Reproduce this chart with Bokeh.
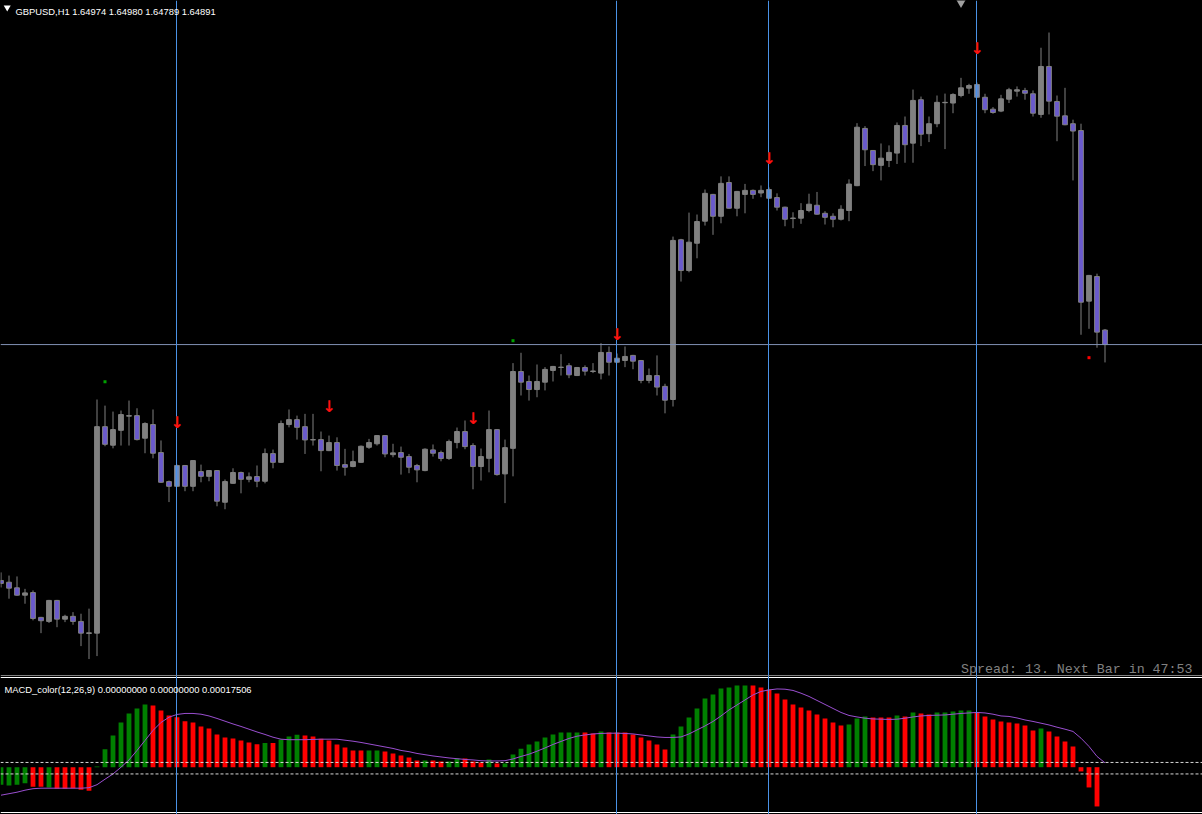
from bokeh.plotting import figure
from bokeh.layouts import column
from bokeh.models import Range1d, Span, Label, ColumnDataSource
from bokeh.embed import file_html
from bokeh.resources import INLINE
from bokeh.core.properties import value

# ---------------- data ----------------
symbol = "GBPUSD,H1"
header_ohlc = ["1.64974", "1.64980", "1.64789", "1.64891"]
macd_label = "MACD_color(12,26,9) 0.00000000 0.00000000 0.00017506"
spread_text = "Spread: 13. Next Bar in 47:53"

opens = [1.63543, 1.63533, 1.63501, 1.63459, 1.63474, 1.63332, 1.63309, 1.63429, 1.63322, 1.63338,
         1.63309, 1.63240, 1.63242, 1.64422, 1.64316, 1.64401, 1.64482, 1.64485, 1.64356, 1.64434,
         1.64274, 1.64108, 1.64081, 1.64200, 1.64081, 1.64165, 1.64138, 1.64171, 1.63990, 1.64098,
         1.64160, 1.64121, 1.64137, 1.64110, 1.64268, 1.64218, 1.64434, 1.64462, 1.64422, 1.64346,
         1.64348, 1.64285, 1.64331, 1.64205, 1.64194, 1.64218, 1.64304, 1.64324, 1.64371, 1.64262,
         1.64274, 1.64251, 1.64200, 1.64171, 1.64289, 1.64274, 1.64240, 1.64331, 1.64394, 1.64314,
         1.64194, 1.64241, 1.64405, 1.64152, 1.64298, 1.64737, 1.64680, 1.64634, 1.64676, 1.64743,
         1.64760, 1.64770, 1.64714, 1.64760, 1.64737, 1.64728, 1.64846, 1.64790, 1.64800, 1.64829,
         1.64800, 1.64686, 1.64714, 1.64652, 1.64577, 1.65490, 1.65314, 1.65470, 1.65596, 1.65749,
         1.65624, 1.65817, 1.65670, 1.65749, 1.65772, 1.65757, 1.65777, 1.65731, 1.65676, 1.65611,
         1.65613, 1.65657, 1.65687, 1.65641, 1.65624, 1.65607, 1.65657, 1.65799, 1.66126, 1.66000,
         1.65915, 1.65943, 1.65985, 1.66143, 1.66042, 1.66290, 1.66096, 1.66153, 1.66273, 1.66271,
         1.66314, 1.66356, 1.66377, 1.66304, 1.66236, 1.66225, 1.66293, 1.66339, 1.66343, 1.66324,
         1.66206, 1.66480, 1.66280, 1.66198, 1.66153, 1.66114, 1.65139, 1.65280, 1.64974]
highs = [1.63589, 1.63571, 1.63566, 1.63495, 1.63486, 1.63335, 1.63432, 1.63432, 1.63347, 1.63362,
         1.63353, 1.63382, 1.64577, 1.64542, 1.64508, 1.64514, 1.64571, 1.64527, 1.64447, 1.64520,
         1.64343, 1.64114, 1.64205, 1.64203, 1.64231, 1.64205, 1.64174, 1.64174, 1.64120, 1.64184,
         1.64165, 1.64160, 1.64200, 1.64297, 1.64291, 1.64457, 1.64520, 1.64485, 1.64495, 1.64495,
         1.64394, 1.64371, 1.64361, 1.64295, 1.64285, 1.64314, 1.64352, 1.64374, 1.64374, 1.64324,
         1.64308, 1.64266, 1.64209, 1.64298, 1.64320, 1.64285, 1.64348, 1.64417, 1.64457, 1.64327,
         1.64297, 1.64514, 1.64408, 1.64348, 1.64785, 1.64844, 1.64714, 1.64777, 1.64762, 1.64769,
         1.64836, 1.64785, 1.64763, 1.64772, 1.64785, 1.64899, 1.64880, 1.64840, 1.64880, 1.64832,
         1.64803, 1.64754, 1.64829, 1.64667, 1.65508, 1.65495, 1.65645, 1.65634, 1.65777, 1.65752,
         1.65852, 1.65852, 1.65769, 1.65809, 1.65777, 1.65800, 1.65789, 1.65755, 1.65679, 1.65647,
         1.65699, 1.65753, 1.65763, 1.65653, 1.65641, 1.65687, 1.65835, 1.66156, 1.66139, 1.66003,
         1.66040, 1.66029, 1.66160, 1.66194, 1.66348, 1.66308, 1.66194, 1.66314, 1.66325, 1.66327,
         1.66415, 1.66381, 1.66388, 1.66324, 1.66248, 1.66318, 1.66358, 1.66366, 1.66358, 1.66343,
         1.66587, 1.66674, 1.66314, 1.66358, 1.66176, 1.66153, 1.65289, 1.65296, 1.64980]
lows = [1.63503, 1.63439, 1.63455, 1.63410, 1.63315, 1.63242, 1.63300, 1.63276, 1.63305, 1.63290,
        1.63168, 1.63094, 1.63111, 1.64310, 1.64298, 1.64314, 1.64314, 1.64343, 1.64270, 1.64241,
        1.64100, 1.63991, 1.64078, 1.64053, 1.64053, 1.64104, 1.64110, 1.63967, 1.63950, 1.64095,
        1.64041, 1.64104, 1.64076, 1.64098, 1.64184, 1.64215, 1.64418, 1.64348, 1.64266, 1.64314,
        1.64167, 1.64282, 1.64171, 1.64142, 1.64190, 1.64215, 1.64295, 1.64314, 1.64247, 1.64247,
        1.64148, 1.64156, 1.64104, 1.64167, 1.64251, 1.64224, 1.64232, 1.64298, 1.64293, 1.64064,
        1.64114, 1.64161, 1.64142, 1.63985, 1.64138, 1.64600, 1.64571, 1.64590, 1.64629, 1.64680,
        1.64714, 1.64699, 1.64711, 1.64714, 1.64728, 1.64692, 1.64714, 1.64785, 1.64762, 1.64750,
        1.64670, 1.64670, 1.64600, 1.64498, 1.64537, 1.65251, 1.65304, 1.65384, 1.65571, 1.65518,
        1.65584, 1.65667, 1.65624, 1.65641, 1.65724, 1.65733, 1.65724, 1.65657, 1.65567, 1.65556,
        1.65581, 1.65647, 1.65633, 1.65577, 1.65561, 1.65600, 1.65596, 1.65796, 1.65911, 1.65882,
        1.65829, 1.65905, 1.65923, 1.65930, 1.65930, 1.66025, 1.66048, 1.66133, 1.66008, 1.66213,
        1.66304, 1.66324, 1.66300, 1.66213, 1.66210, 1.66219, 1.66271, 1.66308, 1.66290, 1.66194,
        1.66187, 1.66206, 1.66053, 1.66144, 1.65829, 1.64947, 1.64981, 1.64873, 1.64789]
closes = [1.63526, 1.63499, 1.63459, 1.63472, 1.63326, 1.63313, 1.63429, 1.63322, 1.63338, 1.63309,
          1.63242, 1.63244, 1.64422, 1.64321, 1.64405, 1.64491, 1.64485, 1.64348, 1.64440, 1.64270,
          1.64104, 1.64081, 1.64200, 1.64081, 1.64228, 1.64138, 1.64171, 1.63996, 1.64108, 1.64160,
          1.64121, 1.64135, 1.64110, 1.64268, 1.64218, 1.64440, 1.64462, 1.64418, 1.64346, 1.64348,
          1.64285, 1.64331, 1.64200, 1.64190, 1.64222, 1.64310, 1.64331, 1.64371, 1.64266, 1.64272,
          1.64247, 1.64190, 1.64175, 1.64293, 1.64270, 1.64240, 1.64337, 1.64394, 1.64308, 1.64194,
          1.64251, 1.64405, 1.64148, 1.64302, 1.64737, 1.64676, 1.64634, 1.64680, 1.64749, 1.64766,
          1.64762, 1.64718, 1.64760, 1.64739, 1.64740, 1.64846, 1.64790, 1.64813, 1.64823, 1.64796,
          1.64686, 1.64714, 1.64648, 1.64573, 1.65486, 1.65314, 1.65476, 1.65594, 1.65755, 1.65624,
          1.65812, 1.65670, 1.65766, 1.65772, 1.65749, 1.65772, 1.65727, 1.65676, 1.65607, 1.65614,
          1.65657, 1.65693, 1.65636, 1.65618, 1.65607, 1.65664, 1.65808, 1.66133, 1.66004, 1.65919,
          1.65956, 1.65989, 1.66143, 1.66033, 1.66286, 1.66093, 1.66153, 1.66275, 1.66275, 1.66320,
          1.66358, 1.66371, 1.66304, 1.66233, 1.66217, 1.66295, 1.66347, 1.66347, 1.66327, 1.66213,
          1.66480, 1.66282, 1.66196, 1.66147, 1.66111, 1.65133, 1.65286, 1.64962, 1.64891]

macd_hist = [-0.00070, -0.00073, -0.00070, -0.00064, -0.00078, -0.00078, -0.00081, -0.00086, -0.00086, -0.00084,
             -0.00090, -0.00094, 0.00003, 0.00072, 0.00127, 0.00179, 0.00215, 0.00235, 0.00251, 0.00247,
             0.00227, 0.00207, 0.00200, 0.00184, 0.00179, 0.00163, 0.00155, 0.00131, 0.00119, 0.00115,
             0.00107, 0.00099, 0.00092, 0.00097, 0.00097, 0.00111, 0.00123, 0.00130, 0.00127, 0.00123,
             0.00114, 0.00107, 0.00091, 0.00079, 0.00067, 0.00067, 0.00067, 0.00067, 0.00063, 0.00055,
             0.00047, 0.00039, 0.00027, 0.00027, 0.00027, 0.00023, 0.00023, 0.00035, 0.00035, 0.00023,
             0.00019, 0.00031, 0.00015, 0.00015, 0.00051, 0.00074, 0.00091, 0.00103, 0.00119, 0.00131,
             0.00139, 0.00139, 0.00139, 0.00139, 0.00135, 0.00143, 0.00139, 0.00139, 0.00139, 0.00131,
             0.00119, 0.00107, 0.00091, 0.00071, 0.00131, 0.00163, 0.00199, 0.00235, 0.00275, 0.00291,
             0.00315, 0.00319, 0.00327, 0.00327, 0.00327, 0.00319, 0.00311, 0.00295, 0.00271, 0.00251,
             0.00239, 0.00227, 0.00211, 0.00195, 0.00179, 0.00167, 0.00171, 0.00195, 0.00203, 0.00199,
             0.00199, 0.00199, 0.00207, 0.00203, 0.00219, 0.00215, 0.00211, 0.00219, 0.00219, 0.00223,
             0.00227, 0.00227, 0.00219, 0.00203, 0.00191, 0.00183, 0.00179, 0.00175, 0.00167, 0.00147,
             0.00155, 0.00143, 0.00123, 0.00103, 0.00083, -0.00017, -0.00081, -0.00157, 0.0]
macd_up = [1, 1, 1, 1, 0, 0, 1, 0, 0, 0,
           0, 0, 1, 1, 1, 1, 1, 1, 1, 0,
           0, 0, 0, 0, 0, 0, 0, 0, 0, 0,
           0, 0, 0, 1, 0, 1, 1, 1, 0, 0,
           0, 0, 0, 0, 0, 0, 1, 1, 0, 0,
           0, 0, 0, 1, 0, 0, 1, 1, 0, 0,
           0, 1, 0, 1, 1, 1, 1, 1, 1, 1,
           1, 1, 1, 0, 0, 1, 0, 0, 0, 0,
           0, 0, 0, 0, 1, 1, 1, 1, 1, 1,
           1, 1, 1, 1, 0, 0, 0, 0, 0, 0,
           0, 0, 0, 0, 0, 0, 1, 1, 1, 0,
           0, 0, 1, 0, 1, 0, 0, 1, 1, 1,
           1, 1, 0, 0, 0, 0, 0, 0, 0, 0,
           1, 0, 0, 0, 0, 0, 0, 0, 0]
macd_signal = [-0.00112, -0.00106, -0.00100, -0.00092, -0.00086, -0.00084, -0.00084, -0.00084, -0.00084, -0.00084,
               -0.00084, -0.00082, -0.00070, -0.00048, -0.00027, 0.00000, 0.00029, 0.00067, 0.00107, 0.00147,
               0.00179, 0.00200, 0.00211, 0.00215, 0.00215, 0.00212, 0.00205, 0.00195, 0.00184, 0.00173,
               0.00163, 0.00152, 0.00141, 0.00131, 0.00120, 0.00112, 0.00110, 0.00110, 0.00110, 0.00111,
               0.00112, 0.00112, 0.00112, 0.00108, 0.00104, 0.00099, 0.00093, 0.00087, 0.00081, 0.00075,
               0.00067, 0.00062, 0.00055, 0.00050, 0.00045, 0.00041, 0.00037, 0.00034, 0.00031, 0.00029,
               0.00026, 0.00025, 0.00025, 0.00026, 0.00033, 0.00043, 0.00052, 0.00064, 0.00077, 0.00091,
               0.00103, 0.00115, 0.00124, 0.00129, 0.00133, 0.00135, 0.00136, 0.00136, 0.00135, 0.00133,
               0.00129, 0.00125, 0.00121, 0.00119, 0.00119, 0.00121, 0.00133, 0.00149, 0.00165, 0.00183,
               0.00205, 0.00229, 0.00249, 0.00269, 0.00289, 0.00303, 0.00309, 0.00313, 0.00312, 0.00307,
               0.00296, 0.00283, 0.00267, 0.00251, 0.00235, 0.00219, 0.00207, 0.00201, 0.00196, 0.00193,
               0.00192, 0.00191, 0.00192, 0.00196, 0.00201, 0.00205, 0.00207, 0.00208, 0.00209, 0.00212,
               0.00215, 0.00217, 0.00219, 0.00217, 0.00212, 0.00205, 0.00203, 0.00197, 0.00189, 0.00183,
               0.00176, 0.00169, 0.00160, 0.00152, 0.00143, 0.00116, 0.00083, 0.00043, 0.000175]
macd_levels = [0.00019, -0.00027]

vline_bars = [22, 77, 96, 122]
bid_price = 1.64891
arrow_bars = [22, 41, 59, 77, 96, 122]
arrow_prices = [1.64445, 1.64537, 1.64470, 1.64949, 1.65953, 1.66583]
green_dot_bars = [13, 64]
green_dot_prices = [1.64678, 1.64913]
red_dot_bars = [136]
red_dot_prices = [1.64816]
top_marker_bar = 120

# ---------------- layout constants ----------------
W = 1202
H1 = 675
H2 = 139
BAR_PX = 8
X0 = -0.0625
X1 = X0 + W / BAR_PX
PRICE_MIN, PRICE_MAX = 1.63000, 1.66857
PX_X = 1.0 / BAR_PX
PX_Y = (PRICE_MAX - PRICE_MIN) / H1
MACD_MIN, MACD_MAX = -0.001892, 0.003668

BG = "#000000"
GRAY = "#808080"
BEAR = "#6a5acd"
VLINE = "#4a92e6"


def base_fig(h, yr):
    p = figure(width=W, height=h, x_range=Range1d(X0, X1), y_range=yr,
               output_backend="svg", toolbar_location=None,
               x_axis_location=None, y_axis_location=None,
               background_fill_color=BG, border_fill_color=BG,
               min_border=0, min_border_left=0, min_border_right=0,
               min_border_top=0, min_border_bottom=0)
    p.grid.visible = False
    p.outline_line_color = None
    return p


n = len(opens)
idx = list(range(n))

# ---------------- main price panel ----------------
p1 = base_fig(H1, Range1d(PRICE_MIN, PRICE_MAX))

body_top = [max(o, c) for o, c in zip(opens, closes)]
body_bot = [min(o, c) for o, c in zip(opens, closes)]
fills = []
for i, (o, c) in enumerate(zip(opens, closes)):
    if i in vline_bars:
        fills.append("#6a8cc8")
    elif c >= o:
        fills.append(GRAY)
    else:
        fills.append(BEAR)

src = ColumnDataSource(dict(x=idx, o=opens, h=highs, l=lows, c=closes,
                            top=body_top, bot=body_bot, fill=fills))
p1.segment(x0="x", y0="l", x1="x", y1="h", source=src, line_color=GRAY, line_width=1)
p1.vbar(x="x", top="top", bottom="bot", width=0.6, source=src,
        fill_color="fill", line_color=GRAY, line_width=1)

p1.add_layout(Span(location=bid_price, dimension="width", line_color="#8090b4", line_width=1))
for b in vline_bars:
    p1.add_layout(Span(location=b - 0.5 * PX_X, dimension="height", line_color=VLINE, line_width=1))

# down arrows (signal markers), drawn above the vertical lines
p1.text(x=arrow_bars, y=arrow_prices, text=["\u2193"] * len(arrow_bars),
        text_color="#ff1010", text_font=value("DejaVu Sans"), text_font_style="bold",
        text_font_size="16px", text_align="center", text_baseline="middle",
        level="overlay")

p1.scatter(x=green_dot_bars, y=green_dot_prices, marker="square", size=3,
           fill_color="#00a000", line_color=None)
p1.scatter(x=red_dot_bars, y=red_dot_prices, marker="square", size=3,
           fill_color="#ff0000", line_color=None)
p1.scatter(x=[top_marker_bar], y=[PRICE_MAX], marker="inverted_triangle", size=13,
           fill_color="#a0a0a0", line_color=None)

# header
p1.scatter(x=[X0 + 6.7 * PX_X], y=[PRICE_MAX - 7.0 * PX_Y], marker="inverted_triangle",
           size=7, fill_color="white", line_color=None)
p1.add_layout(Label(x=15, y=H1 - 10.5, x_units="screen", y_units="screen",
                    text=symbol + "  " + " ".join(header_ohlc), text_color="white",
                    text_font="Liberation Sans", text_font_size="9.4px",
                    text_baseline="alphabetic", text_align="left"))
p1.add_layout(Label(x=1192, y=6.5, x_units="screen", y_units="screen",
                    text=spread_text, text_color="#808080",
                    text_font="Liberation Mono", text_font_size="13.3px",
                    text_baseline="alphabetic", text_align="right"))

# ---------------- MACD panel ----------------
p2 = base_fig(H2, Range1d(MACD_MIN, MACD_MAX))
px_val = (MACD_MAX - MACD_MIN) / H2
for row in (0, 2, 137):
    p2.add_layout(Span(location=MACD_MAX - row * px_val, dimension="width",
                       line_color="white", line_width=1))
for lv in macd_levels:
    p2.add_layout(Span(location=lv, dimension="width", line_color="#d8d8d8",
                       line_width=1, line_dash="3 2"))

bar_colors = ["#008000" if u else "#ff0000" for u in macd_up]
msrc = ColumnDataSource(dict(x=idx, top=macd_hist, col=bar_colors))
p2.vbar(x="x", top="top", bottom=0, width=0.6, source=msrc,
        fill_color="col", line_color=None)
p2.line(x=idx, y=macd_signal, line_color="#9a4fd0", line_width=1)
for b in vline_bars:
    p2.add_layout(Span(location=b - 0.5 * PX_X, dimension="height", line_color=VLINE, line_width=1))

p2.add_layout(Label(x=4, y=H2 - 13.7, x_units="screen", y_units="screen",
                    text=macd_label, text_color="white",
                    text_font="Liberation Sans", text_font_size="9.4px",
                    text_baseline="alphabetic", text_align="left"))

layout = column(p1, p2, spacing=0)
html = file_html(layout, INLINE)
html = html.replace("<head>", "<head><style>html,body{background:#000000;margin:0;padding:0;}</style>", 1)
open("out.html", "w").write(html)
